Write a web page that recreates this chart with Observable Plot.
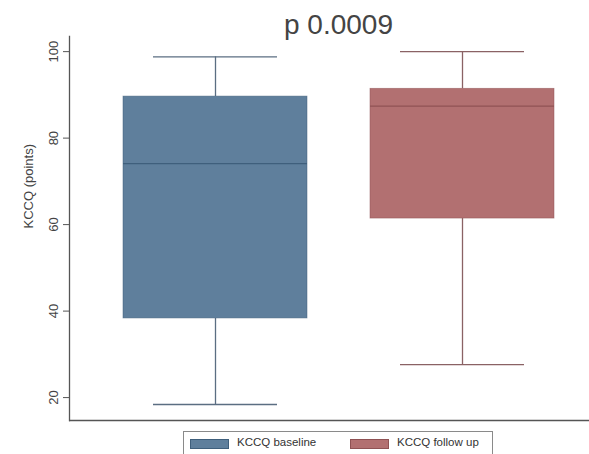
<!DOCTYPE html>
<html>
<head>
<meta charset="utf-8">
<script src="https://cdn.jsdelivr.net/npm/d3@7"></script>
<script src="https://cdn.jsdelivr.net/npm/@observablehq/plot@0.6"></script>
<style>
body { margin: 0; background: #fff; font-family: "Liberation Sans", Arial, sans-serif; }
#chart svg { display: block; }
#legend { position: relative; margin-left: 183px; width: 310px; height: 24px; border: 1px solid #8a8a8a; border-bottom: none; margin-top: 5px; box-sizing: border-box; font-size: 11.5px; color: #333; }
.sw { position: absolute; top: 7px; width: 37px; height: 8px; }
.lb { position: absolute; top: 4px; }
</style>
</head>
<body>
<div id="chart"></div>
<div id="legend"></div>
<script>
const groups = ["KCCQ baseline", "KCCQ follow up"];
const mins = [18.4, 27.6];
const q1s = [38.3, 61.4];
const medians = [74.1, 87.4];
const q3s = [89.6, 91.4];
const maxs = [98.8, 100];
const fills = ["#5f7f9c", "#b27071"];
const strokes = ["#3f5f7c", "#8f5254"];
const whiskerColors = ["#5b6e82", "#8a6264"];
const yTicks = [20, 40, 60, 80, 100];
const title = "p 0.0009";

const data = groups.map((g, i) => ({
  g, min: mins[i], q1: q1s[i], med: medians[i], q3: q3s[i], max: maxs[i],
  fill: fills[i], stroke: strokes[i], wc: whiskerColors[i]
}));

const chart = Plot.plot({
  width: 589,
  height: 426,
  marginLeft: 69,
  marginRight: 0,
  marginTop: 36,
  marginBottom: 6,
  style: { fontFamily: "Liberation Sans, Arial, sans-serif", background: "#fff" },
  x: { type: "band", domain: groups, range: [69, 609], paddingInner: 0.254, paddingOuter: 0.216, axis: null },
  y: { domain: [14.7, 103.5], ticks: yTicks, label: null, axis: null },
  marks: [
    Plot.ruleX(data, { x: "g", y1: "q3", y2: "max", stroke: "wc", strokeWidth: 1.3 }),
    Plot.ruleX(data, { x: "g", y1: "min", y2: "q1", stroke: "wc", strokeWidth: 1.3 }),
    Plot.tickY(data, { x: "g", y: "max", stroke: "wc", strokeWidth: 1.3, insetLeft: 30, insetRight: 30 }),
    Plot.tickY(data, { x: "g", y: "min", stroke: "wc", strokeWidth: 1.3, insetLeft: 30, insetRight: 30 }),
    Plot.barY(data, { x: "g", y1: "q1", y2: "q3", fill: "fill", stroke: "stroke", strokeWidth: 0.8, strokeOpacity: 0.6 }),
    Plot.tickY(data, { x: "g", y: "med", stroke: "stroke", strokeWidth: 1.2 }),
    Plot.axisY({ ticks: yTicks, tickSize: 6, tickRotate: -90, tickPadding: 6, fontSize: 13, color: "#444", stroke: "#555", label: null }),
    Plot.frame({ anchor: "left", stroke: "#555", strokeWidth: 1.3 }),
    Plot.ruleY([14.7], { stroke: "#555", strokeWidth: 1.3 }),
    Plot.text(["KCCQ (points)"], { frameAnchor: "left", dx: -41, rotate: -90, fontSize: 13, fill: "#444" }),
    Plot.text([title], { frameAnchor: "top", dx: 9, dy: -11, lineAnchor: "middle", textAnchor: "middle", fontSize: 28, fill: "#444" })
  ]
});
document.getElementById("chart").appendChild(chart);

const legend = document.getElementById("legend");
const swX = [6, 166], lbX = [53, 213];
groups.forEach((g, i) => {
  const s = document.createElement("div");
  s.className = "sw"; s.style.left = swX[i] + "px"; s.style.background = fills[i];
  s.style.border = "1px solid " + strokes[i];
  legend.appendChild(s);
  const l = document.createElement("div");
  l.className = "lb"; l.style.left = lbX[i] + "px"; l.textContent = g;
  legend.appendChild(l);
});
</script>
</body>
</html>
